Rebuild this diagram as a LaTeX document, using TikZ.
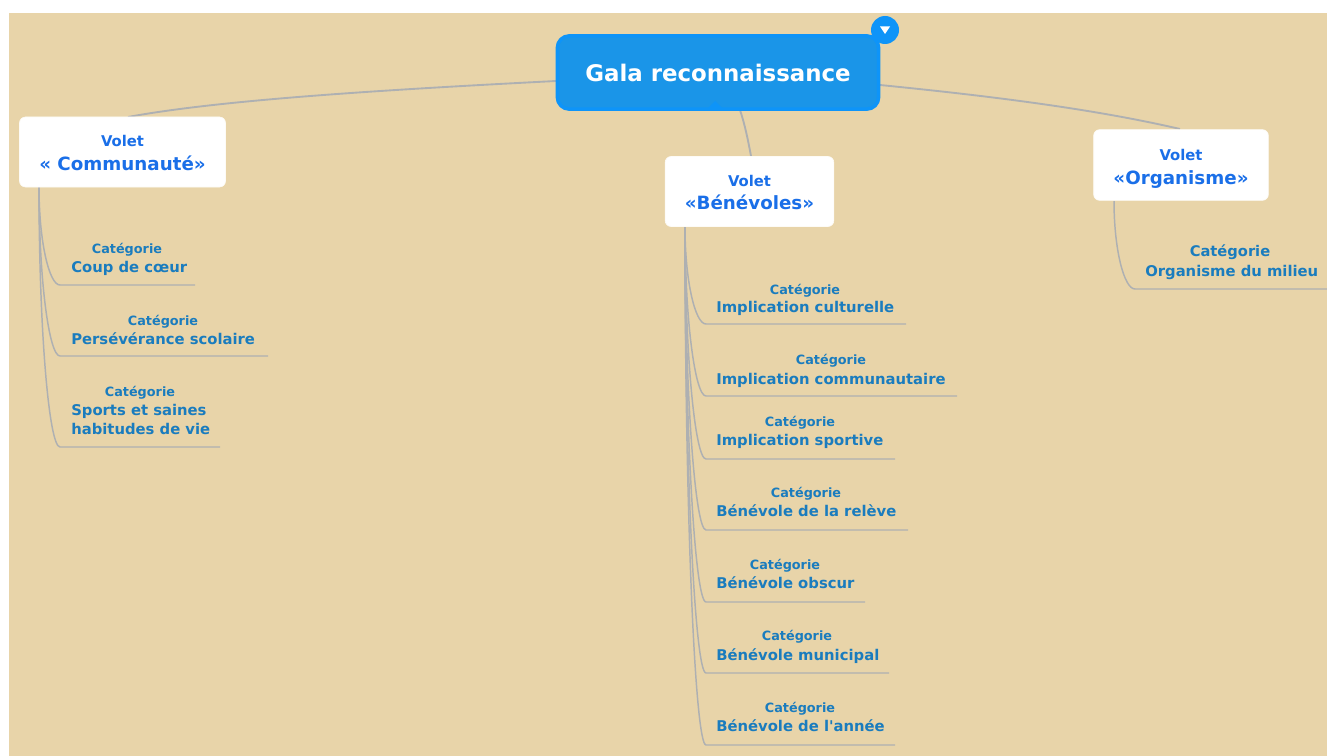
\documentclass[tikz,border=0pt]{standalone}
\usepackage{fontspec}
\usetikzlibrary{calc}
\setmainfont{DejaVu Sans}[Ligatures=TeXOff]
\definecolor{bgsand}{HTML}{E8D4A9}
\definecolor{rootblue}{HTML}{1A95E8}
\definecolor{rootedge}{HTML}{0E94F8}
\definecolor{voletblue}{HTML}{1A6FE8}
\definecolor{leafblue}{HTML}{1A7CBE}
\definecolor{linkgrey}{HTML}{AEB0B2}
\tikzset{
  x=0.75pt,y=-0.75pt,
  link/.style={draw=linkgrey,line width=1.1pt},
  mainlink/.style={draw=linkgrey,line width=1.4pt},
  rootbox/.style={draw=rootedge,line width=2.6pt,fill=rootblue,rounded corners=9pt,minimum width=241pt,minimum height=55pt,inner sep=0pt,text=white,font=\bfseries\fontsize{17.15}{20}\selectfont},
  voletbox/.style={fill=white,draw=white!90!bgsand,line width=.5pt,rounded corners=4.5pt,inner sep=0pt,align=center,text=voletblue},
  cat/.style={text=leafblue,inner sep=0pt,font=\bfseries\fontsize{9.6}{11}\selectfont},
  leaf/.style={text=leafblue,inner sep=0pt,anchor=base west,align=left,font=\bfseries\fontsize{11.1}{14.2}\selectfont},
}
\newcommand{\voletlabel}[3]{\rule{0pt}{#1}{\fontsize{11.1}{12}\selectfont\bfseries #2}\\[5.9pt]{\fontsize{13.7}{14}\selectfont\bfseries #3}}
\begin{document}
\begin{tikzpicture}
\useasboundingbox (0,0) rectangle (1327,756);
\fill[white] (0,0) rectangle (1327,756);
\fill[bgsand] (9,13) rectangle (1327,756);

% named anchors for the links
\coordinate (rl) at (556,81);
\coordinate (rr) at (880,85);
\coordinate (rb) at (740,110);
\coordinate (cTop) at (128,117);
\coordinate (bTop) at (751,156);
\coordinate (oTop) at (1180,129);
\coordinate (cDn) at (39,187);
\coordinate (bDn) at (685,227);
\coordinate (oDn) at (1114,201);

% root links
\draw[mainlink] (rl) .. controls (380,90) and (220,100) .. (cTop);
\draw[mainlink] (rb) .. controls (745,125) and (748,140) .. (bTop);
\draw[mainlink] (rr) .. controls (980,95) and (1090,108) .. (oTop);

% underline end points
\coordinate (c1a) at (60,285);  \coordinate (c1b) at (195,285);
\coordinate (c2a) at (60,356);  \coordinate (c2b) at (268,356);
\coordinate (c3a) at (60,447);  \coordinate (c3b) at (220,447);
\coordinate (b1a) at (706,324); \coordinate (b1b) at (906,324);
\coordinate (b2a) at (706,396); \coordinate (b2b) at (957,396);
\coordinate (b3a) at (706,459); \coordinate (b3b) at (895,459);
\coordinate (b4a) at (706,530); \coordinate (b4b) at (908,530);
\coordinate (b5a) at (706,602); \coordinate (b5b) at (865,602);
\coordinate (b6a) at (706,673); \coordinate (b6b) at (889,673);
\coordinate (b7a) at (706,745); \coordinate (b7b) at (895,745);
\coordinate (o1a) at (1135,289); \coordinate (o1b) at (1327,289);

% volet to leaf links
\foreach \a/\b in {c1a/c1b,c2a/c2b,c3a/c3b}{
  \draw[link] (cDn) .. controls ($(cDn)!0.55!(cDn |- \a)$) and ($(\a)+(-11,0)$) .. (\a) -- (\b);
}
\foreach \a/\b in {b1a/b1b,b2a/b2b,b3a/b3b,b4a/b4b,b5a/b5b,b6a/b6b,b7a/b7b}{
  \draw[link] (bDn) .. controls ($(bDn)!0.55!(bDn |- \a)$) and ($(\a)+(-11,0)$) .. (\a) -- (\b);
}
\draw[link] (oDn) .. controls ($(oDn)!0.55!(oDn |- o1a)$) and ($(o1a)+(-11,0)$) .. (o1a) -- (o1b);

% root
\node[rootbox] (root) at (718,72.5) {Gala reconnaissance};
\fill[rootedge] (707,109) -- (715,101) -- (723,109) -- cycle;
\node[circle,fill=rootedge,minimum size=21pt,inner sep=0pt] (toggle) at (885,30) {};
\fill[white] (880,26.5) -- (890,26.5) -- (885,34) -- cycle;

% volets
\node[voletbox,minimum width=154.5pt,minimum height=52.5pt] (vc) at (122.5,152) {\voletlabel{10pt}{Volet}{« Communauté»}};
\node[voletbox,minimum width=126.5pt,minimum height=52.5pt] (vb) at (749.5,191.5) {\voletlabel{10pt}{Volet}{«Bénévoles»}};
\node[voletbox,minimum width=131pt,minimum height=53pt] (vo) at (1181,165) {\voletlabel{14.5pt}{Volet}{«Organisme»}};

% Communauté leaves
\node[cat] (cc1) at (127,249.5) {Catégorie};
\node[leaf] (cl1) at (71,272) {Coup de cœur};
\node[cat] (cc2) at (163,321.5) {Catégorie};
\node[leaf] (cl2) at (71,344) {Persévérance scolaire};
\node[cat] (cc3) at (140,392.5) {Catégorie};
\node[leaf] (cl3) at (71,434) {Sports et saines\\habitudes de vie};

% Bénévoles leaves
\node[cat] (bc1) at (805,290.5) {Catégorie};
\node[leaf] (bl1) at (716,312) {Implication culturelle};
\node[cat] (bc2) at (831,360.5) {Catégorie};
\node[leaf] (bl2) at (716,384) {Implication communautaire};
\node[cat] (bc3) at (800,422.5) {Catégorie};
\node[leaf] (bl3) at (716,445) {Implication sportive};
\node[cat] (bc4) at (806,493.5) {Catégorie};
\node[leaf] (bl4) at (716,516.5) {Bénévole de la relève};
\node[cat] (bc5) at (785,565.5) {Catégorie};
\node[leaf] (bl5) at (716,588) {Bénévole obscur};
\node[cat] (bc6) at (797,636.5) {Catégorie};
\node[leaf] (bl6) at (716,660) {Bénévole municipal};
\node[cat] (bc7) at (800,708.5) {Catégorie};
\node[leaf] (bl7) at (716,731) {Bénévole de l'année};

% Organisme leaf
\node[cat,font=\bfseries\fontsize{11}{12}\selectfont] (oc1) at (1230,252.5) {Catégorie};
\node[leaf] (ol1) at (1145,276) {Organisme du milieu};
\end{tikzpicture}
\end{document}
